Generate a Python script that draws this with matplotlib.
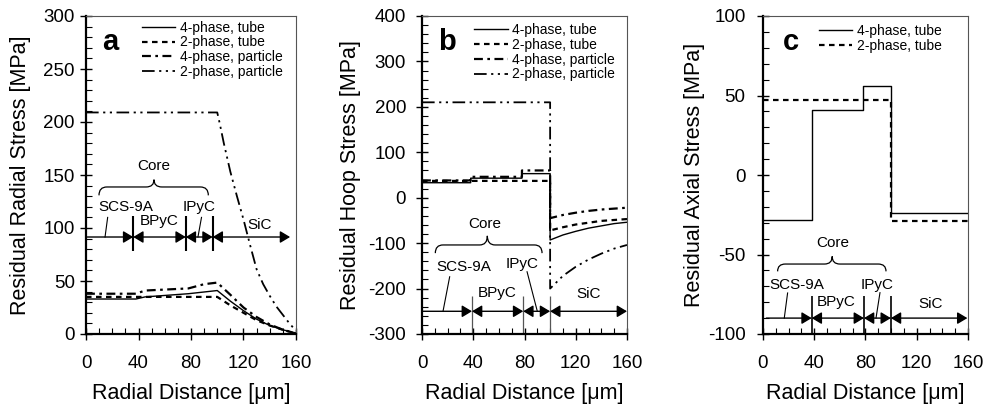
import matplotlib
matplotlib.use("Agg")
import matplotlib.pyplot as plt
from matplotlib.path import Path
from matplotlib.patches import PathPatch
from matplotlib.ticker import MultipleLocator

plt.rcParams["font.family"] = ["Liberation Sans", "DejaVu Sans"]
plt.rcParams["axes.unicode_minus"] = False

# ---------------------------------------------------------------- data
LABELS = ["4-phase, tube", "2-phase, tube", "4-phase, particle", "2-phase, particle"]

# (a) residual radial stress [MPa] vs radial distance [um]
A_TUBE4_X = [0, 38, 45, 78, 100, 110, 120, 130, 140, 150, 160]
A_TUBE4_Y = [33, 33, 35, 38, 41, 31, 22, 14, 8, 4, 0.5]
A_TUBE2_X = [0, 100, 110, 120, 130, 140, 150, 160]
A_TUBE2_Y = [35, 35, 27, 20, 13, 8, 4, 0.5]
A_PART4_X = [0, 38, 45, 78, 90, 100, 110, 120, 130, 140, 150, 160]
A_PART4_Y = [38, 38, 41, 43, 47, 48.5, 37, 25, 16, 9, 4, 0.5]
A_PART2_X = [0, 100, 102, 105, 110, 115, 120, 125, 130, 135, 140, 145, 150, 155, 160]
A_PART2_Y = [209, 209, 198, 180, 153, 130, 108, 84, 61, 47, 36, 26, 18, 10, 3]

# (b) residual hoop stress
B_TUBE4_X = [0, 38, 38, 78, 78, 100, 100, 110, 120, 130, 140, 150, 160]
B_TUBE4_Y = [33, 33, 43, 43, 53, 53, -93, -82, -74, -67, -62, -57, -54]
B_TUBE2_X = [0, 100, 100, 110, 120, 130, 140, 150, 160]
B_TUBE2_Y = [37, 37, -72, -65, -59, -55, -51, -49, -47]
B_PART4_X = [0, 38, 38, 78, 78, 100, 100, 110, 120, 130, 140, 150, 160]
B_PART4_Y = [38, 38, 46, 46, 60, 60, -45, -38, -33, -29, -26, -24, -22]
B_PART2_X = [0, 100, 100, 110, 120, 130, 140, 150, 160]
B_PART2_Y = [210, 210, -200, -172, -152, -136, -123, -112, -104]

# (c) residual axial stress
C_TUBE4_X = [0, 38, 38, 78, 78, 100, 100, 160]
C_TUBE4_Y = [-28, -28, 41, 41, 56, 56, -24, -24]
C_TUBE2_X = [0, 100, 100, 160]
C_TUBE2_Y = [47, 47, -29, -29]

STYLES = [
    dict(ls="-", lw=1.0),
    dict(ls=(0, (2.5, 2)), lw=1.6),
    dict(ls=(0, (4, 2, 1.2, 2)), lw=1.6),
    dict(ls=(0, (7, 2.5, 1.2, 2.5, 1.2, 2.5)), lw=1.3),
]

# layer key positions (data units) per panel
KEY_A = dict(y=91.5, b=(36, 76, 96.5), x0=0, x1=155.5, v=(78, 111), lw=1.5,
             vc="k", scs=(30.5, 120), scs_l=((16.5, 110), (14.5, 91.5)),
             bpyc=(56, 106.5), ipyc=(86.3, 120), ipyc_l=((88, 110), (85.3, 91.5)),
             sic=(132, 103), core=(51.8, 158.5),
             brace=(9.9, 93.2, 51.8, 130.8, 138.7, 145.6))
KEY_B = dict(y=-250, b=(39, 79, 100), x0=0, x1=160, v=(-300, -216), lw=0.9,
             vc="#555555", scs=(32.5, -152), scs_l=((21.6, -174), (16.4, -250)),
             bpyc=(58.5, -210), ipyc=(78, -145), ipyc_l=((82, -163), (90, -250)),
             sic=(130, -212), core=(49, -58),
             brace=(10.4, 93.7, 51, -122, -104, -84))
KEY_C = dict(y=-90, b=(38, 78.8, 99.8), x0=2.6, x1=159.5, v=(-100, -76.3), lw=1.2,
             vc="k", scs=(26.5, -69), scs_l=((19.2, -74.2), (16.6, -90)),
             bpyc=(56.8, -80), ipyc=(89.2, -69), ipyc_l=((91.3, -74), (88.2, -90)),
             sic=(130.7, -81), core=(54.2, -43),
             brace=(11.4, 96, 54, -60.6, -56, -51.2))


def brace(ax, x0, x1, xc, y_end, y_line, y_tip, dx=6):
    verts = [(x0, y_end), (x0, y_line), (x0 + dx, y_line),
             (xc - dx, y_line), (xc, y_line), (xc, y_tip),
             (xc, y_line), (xc + dx, y_line),
             (x1 - dx, y_line), (x1, y_line), (x1, y_end)]
    codes = [Path.MOVETO, Path.CURVE3, Path.CURVE3, Path.LINETO,
             Path.CURVE3, Path.CURVE3, Path.CURVE3, Path.CURVE3,
             Path.LINETO, Path.CURVE3, Path.CURVE3]
    ax.add_patch(PathPatch(Path(verts, codes), fill=False, lw=0.9, color="k"))


def arrow(ax, x0, x1, y, style):
    ax.annotate("", xy=(x1, y), xytext=(x0, y),
                arrowprops=dict(arrowstyle=style + ",head_length=0.5,head_width=0.3",
                                color="k", lw=1.0, shrinkA=0, shrinkB=0,
                                mutation_scale=12))


def layer_key(ax, k):
    y = k["y"]
    b1, b2, b3 = k["b"]
    for bx in k["b"]:
        ax.plot([bx, bx], k["v"], color=k["vc"], lw=k["lw"], solid_capstyle="butt")
    arrow(ax, k["x0"], b1, y, "-|>")
    arrow(ax, b1, b2, y, "<|-|>")
    arrow(ax, b2, b3, y, "<|-|>")
    arrow(ax, b3, k["x1"], y, "<|-|>")
    fs = 11
    for key, txt in [("scs", "SCS-9A"), ("bpyc", "BPyC"), ("ipyc", "IPyC"),
                     ("sic", "SiC"), ("core", "Core")]:
        ax.text(*k[key], txt, ha="center", va="center", fontsize=fs)
    for key in ("scs_l", "ipyc_l"):
        (xa, ya), (xb, yb) = k[key]
        ax.plot([xa, xb], [ya, yb], color="k", lw=0.8)
    brace(ax, *k["brace"])


def setup(ax, ylim, major, minor, ylabel, letter, ypad, ylab_x, letter_x):
    ax.set_xlim(0, 160)
    ax.set_ylim(*ylim)
    ax.xaxis.set_major_locator(MultipleLocator(40))
    ax.xaxis.set_minor_locator(MultipleLocator(10))
    ax.yaxis.set_major_locator(MultipleLocator(major))
    ax.yaxis.set_minor_locator(MultipleLocator(minor))
    ax.tick_params(which="major", direction="inout", length=9, width=1.0,
                   labelsize=13.5)
    ax.tick_params(axis="y", which="major", pad=ypad)
    ax.tick_params(axis="x", which="major", pad=10.5)
    ax.tick_params(which="minor", direction="in", length=4, width=0.8)
    for s in ("left", "bottom"):
        ax.spines[s].set_linewidth(1.6)
    for s in ("top", "right"):
        ax.spines[s].set_linewidth(0.8)
        ax.spines[s].set_color("#555555")
    ax.set_xlabel("Radial Distance [\u03bcm]", fontsize=15.5, va="center")
    ax.xaxis.set_label_coords(0.5, -0.186)
    ax.set_ylabel(ylabel, fontsize=15.5, va="center")
    ax.yaxis.set_label_coords(ylab_x, 0.5)
    ax.text(letter_x, 0.893, letter, transform=ax.transAxes, fontsize=21,
            fontweight="bold", ha="left", va="baseline")


def legend(ax, n, x, y):
    ax.legend(ax.lines[:n], LABELS[:n], loc="upper left", bbox_to_anchor=(x, y),
              frameon=False, fontsize=10, handlelength=2.4, handletextpad=0.35,
              labelspacing=0.05, borderpad=0, borderaxespad=0)


fig = plt.figure(figsize=(9.87, 4.09), dpi=100)
H = 318 / 409
B0 = 75 / 409
axa = fig.add_axes([86 / 987, B0, 210 / 987, H])
axb = fig.add_axes([422 / 987, B0, 205 / 987, H])
axc = fig.add_axes([763 / 987, B0, 205 / 987, H])

for (xs, ys), st in zip([(A_TUBE4_X, A_TUBE4_Y), (A_TUBE2_X, A_TUBE2_Y),
                         (A_PART4_X, A_PART4_Y), (A_PART2_X, A_PART2_Y)], STYLES):
    axa.plot(xs, ys, color="k", **st)
for (xs, ys), st in zip([(B_TUBE4_X, B_TUBE4_Y), (B_TUBE2_X, B_TUBE2_Y),
                         (B_PART4_X, B_PART4_Y), (B_PART2_X, B_PART2_Y)], STYLES):
    axb.plot(xs, ys, color="k", **st)
for (xs, ys), st in zip([(C_TUBE4_X, C_TUBE4_Y), (C_TUBE2_X, C_TUBE2_Y)], STYLES):
    axc.plot(xs, ys, color="k", **st)

legend(axa, 4, 0.265, 0.985)
legend(axb, 4, 0.255, 0.977)
legend(axc, 2, 0.271, 0.974)

setup(axa, (0, 300), 50, 10, "Residual Radial Stress [MPa]", "a", 3.5, -0.314, 0.075)
setup(axb, (-300, 400), 100, 20, "Residual Hoop Stress [MPa]", "b", 7, -0.348, 0.08)
setup(axc, (-100, 100), 50, 10, "Residual Axial Stress [MPa]", "c", 8, -0.332, 0.099)

layer_key(axa, KEY_A)
layer_key(axb, KEY_B)
layer_key(axc, KEY_C)

fig.savefig("out.png", dpi=100, facecolor="white")
